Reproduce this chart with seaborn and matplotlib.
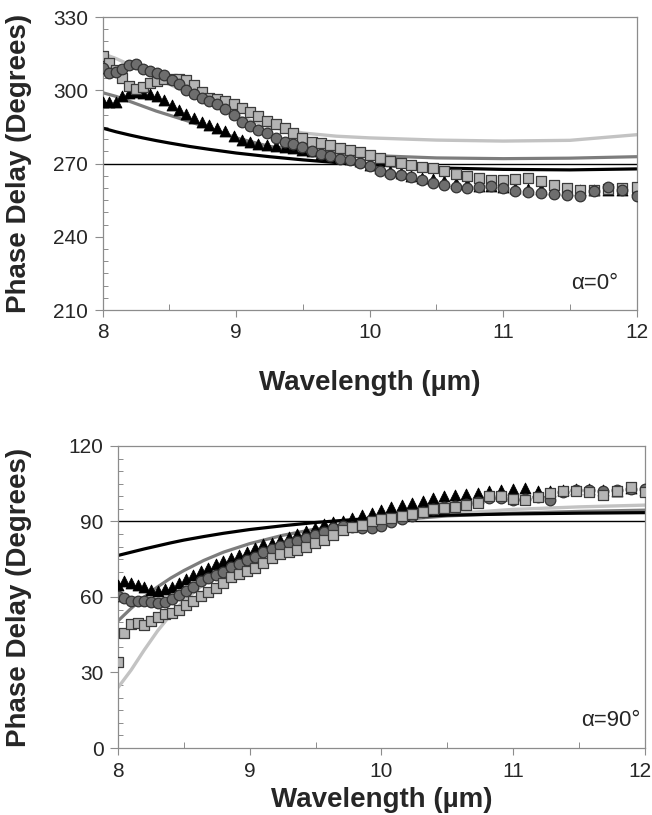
import matplotlib
matplotlib.use("Agg")
import matplotlib.pyplot as plt
from matplotlib.ticker import MultipleLocator, NullFormatter
import seaborn as sns
import pandas as pd

# wavelength of the measured points (um)
wavelength = [8.000, 8.049, 8.098, 8.148, 8.199, 8.250, 8.302, 8.354, 8.408, 8.462,
              8.516, 8.571, 8.627, 8.684, 8.742, 8.800, 8.859, 8.919, 8.980, 9.041,
              9.103, 9.167, 9.231, 9.296, 9.362, 9.429, 9.496, 9.565, 9.635, 9.706,
              9.778, 9.851, 9.925, 10.000, 10.076, 10.154, 10.233, 10.313, 10.394, 10.476,
              10.560, 10.645, 10.732, 10.820, 10.909, 11.000, 11.092, 11.186, 11.282, 11.379,
              11.478, 11.579, 11.681, 11.786, 11.892, 12.000]

# alpha = 0 deg, measured
top_tri = [295, 295, 295.4, 297.5, 299, 299.1, 299, 298.5, 297.5, 295.9,
           293.8, 291.9, 290.2, 288.5, 286.9, 285.8, 284.6, 283.4, 281.4, 279.7,
           278.7, 277.9, 277.5, 277, 276.6, 276.2, 275.6, 275, 274.1, 273.3,
           272.7, 271.9, 270.9, 269.5, 268.2, 267, 266, 265, 264.2, 263.5,
           262.8, 262.2, 261.6, 261, 260.6, 260.3, 260, 259.7, 259.5, 259.4,
           259.3, 259.2, 259.2, 259.3, 259.3, 259.5]
top_circ = [309.3, 307.2, 307.3, 308.7, 310.2, 310.7, 308.9, 307.9, 307.2, 306.2,
            304.4, 302.4, 300.3, 298.5, 296.8, 295.7, 294.3, 292.3, 289.8, 287.1,
            285.3, 283.9, 282.3, 280.6, 279, 278.1, 276.8, 275.3, 274.1, 273,
            272, 271.4, 270.2, 268.9, 267, 265.8, 265.2, 264.6, 263.2, 262,
            261.2, 260.5, 259.9, 260.4, 260.7, 259.8, 258.9, 258.4, 257.9, 257.7,
            257.3, 256.6, 258.8, 260.3, 259.2, 256.8]
top_sq = [313.9, 311.3, 308.3, 305, 301.8, 300.7, 301.5, 303, 303.9, 304.5,
          304.8, 304.8, 304.1, 302.3, 299.3, 297, 296.3, 295.5, 294.2, 292.7,
          291, 289.4, 287.5, 286.2, 284.5, 282.6, 280.5, 279, 278.6, 277.6,
          276.4, 275.5, 274.7, 273.6, 272.3, 271, 270.3, 269.4, 268.7, 268.2,
          267, 265.9, 265, 263.9, 263.2, 263.4, 263.8, 264, 262.8, 261.3,
          260, 259.1, 259.2, 259.6, 259.9, 260.5]

# alpha = 90 deg, measured
bot_tri = [64.8, 66.2, 65.4, 64.6, 63.8, 62.9, 62.5, 63.2, 64, 65.6,
           67.2, 68.8, 70.2, 71.4, 73.2, 74.3, 75.5, 76.7, 78, 79.4,
           80.9, 81.6, 82.5, 83.8, 85, 86.3, 87.5, 88.8, 89.6, 90.3,
           91.5, 92.5, 93.4, 94.4, 95.6, 96.5, 97.3, 98.2, 99.2, 100,
           100.5, 100.8, 101.4, 102.2, 102.6, 102.9, 103.3, 102.2, 102, 102.6,
           103, 102.8, 102.5, 102.3, 103.3, 102.5]
bot_circ = [60.2, 59.7, 58.4, 58.6, 58.4, 58, 57.6, 58.1, 59.2, 60.8,
            62.2, 63.8, 66.2, 67.6, 68.8, 70.1, 72, 73.1, 74.6, 76,
            77.8, 79, 80.4, 81.6, 82.2, 83.5, 84.8, 86, 87.6, 88.2,
            87.9, 87.3, 87.4, 88.2, 89.8, 91, 92.3, 93.6, 95, 95.8,
            96.3, 97, 97.8, 99.3, 99.5, 98.6, 99, 99.8, 98.5, 101.8,
            102.5, 102.6, 102, 102.4, 102.9, 103]
bot_sq = [34.3, 45.6, 49.4, 49.8, 48.8, 50.3, 52.2, 53.3, 53.8, 55,
          56.8, 58.6, 60.5, 62, 63.5, 65.5, 67.8, 69.2, 70.5, 71.5,
          73.5, 75.5, 77.2, 77.8, 78.6, 80, 81.5, 82.6, 84.5, 86.8,
          87.7, 88.5, 90, 91, 91.5, 92, 92.8, 93.8, 95, 95.5,
          95.7, 96.4, 97.5, 100, 100.1, 99, 98.5, 99.6, 101.3, 102,
          102.1, 101.8, 100.6, 102, 103.5, 101.8]

# model curves
line_wl = [8.0, 8.1, 8.2, 8.3, 8.4, 8.5, 8.65, 8.8, 9.0, 9.25, 9.5, 9.75, 10.0, 10.5, 11.0, 11.5, 12.0]
top_black = [284.5, 283, 281.7, 280.5, 279.4, 278.4, 277, 275.8, 274.3, 272.8, 271.5, 270.4, 269.5, 268.2, 267.6, 267.4, 267.8]
top_gray = [299, 297.5, 295.5, 293.5, 291.5, 289.8, 287.2, 284.5, 280.5, 277, 275.5, 274.3, 273.3, 272.3, 272, 272.2, 272.8]
top_light = [315, 313, 310.5, 308, 305, 302.5, 298.5, 294.5, 289.5, 285, 282.5, 281.2, 280.5, 279.6, 279.2, 279.5, 281.8]
bot_black = [76.5, 77.8, 79.1, 80.3, 81.5, 82.6, 84, 85.3, 86.8, 88.3, 89.6, 90.6, 91.5, 92.5, 93, 93.3, 93.5]
bot_gray = [50.5, 55.5, 60, 64, 67.5, 70.5, 74.5, 77.8, 81.2, 84.5, 87, 88.8, 90.2, 92.2, 93.3, 94, 94.5]
bot_light = [24, 31, 39, 46.5, 53, 58.5, 65, 70.5, 76, 81.5, 85.5, 88.5, 90.5, 93, 94.8, 95.8, 96.5]

x_ticks = [8, 9, 10, 11, 12]

sns.set_theme(style="white")
plt.rcParams['font.family'] = ['Liberation Sans', 'DejaVu Sans']
plt.rcParams['axes.edgecolor'] = '#8c8c8c'

fig = plt.figure(figsize=(6.52, 8.15), dpi=100)
ax_top = fig.add_axes([0.1575, 0.6196, 0.819, 0.3595])
ax_bot = fig.add_axes([0.181, 0.0822, 0.808, 0.3706])


def draw_panel(ax, tri, circ, sq, black, gray, light, ref, ylim, label, label_x, sq_on_top):
    lines = pd.DataFrame({'wl': line_wl, 'black': black, 'gray': gray, 'light': light})
    pts = pd.DataFrame({'wl': wavelength, 'tri': tri, 'circ': circ, 'sq': sq})

    ax.axhline(ref, color='black', lw=1.0, zorder=1)
    sns.lineplot(data=lines, x='wl', y='light', ax=ax, color='#c3c3c3', lw=2.4, zorder=2)
    sns.lineplot(data=lines, x='wl', y='gray', ax=ax, color='#7d7d7d', lw=2.3, zorder=2)
    sns.lineplot(data=lines, x='wl', y='black', ax=ax, color='black', lw=2.3, zorder=2)

    sns.scatterplot(data=pts, x='wl', y='tri', ax=ax, marker='^', s=62, color='black',
                    edgecolor='black', linewidth=0.6, zorder=3)
    z_sq, z_circ = (5, 4) if sq_on_top else (4, 5)
    sns.scatterplot(data=pts, x='wl', y='circ', ax=ax, marker='o', s=58, color='#6e6e6e',
                    edgecolor='#333333', linewidth=0.9, zorder=z_circ)
    sns.scatterplot(data=pts, x='wl', y='sq', ax=ax, marker='s', s=52, color='#b4b4b4',
                    edgecolor='#3c3c3c', linewidth=0.9, zorder=z_sq)

    ax.set_xlim(8, 12)
    ax.set_ylim(*ylim)
    ax.set_xticks(x_ticks)
    ax.xaxis.set_major_formatter(NullFormatter())
    ax.xaxis.set_minor_locator(MultipleLocator(0.5))
    ax.yaxis.set_major_locator(MultipleLocator(30))
    ax.yaxis.set_minor_locator(MultipleLocator(5))
    ax.tick_params(axis='y', which='major', direction='out', length=5.5, width=0.8,
                   color='#8c8c8c', pad=5, labelsize=15, left=True)
    ax.tick_params(axis='y', which='minor', direction='in', length=3.5, width=0.7,
                   color='#8c8c8c', left=True)
    ax.tick_params(axis='x', which='major', direction='out', length=5, width=0.8,
                   color='#8c8c8c', bottom=True)
    ax.tick_params(axis='x', which='minor', direction='in', length=4, width=0.7,
                   color='#8c8c8c', bottom=True)
    for sp in ax.spines.values():
        sp.set_color('#8c8c8c')
        sp.set_linewidth(0.9)

    # x tick labels as text so the last one can be kept inside the figure
    trans = ax.get_xaxis_transform()
    for t in x_ticks:
        ha = 'center'
        xpos = t
        if t == x_ticks[-1] and label_x > 0.98:
            ha = 'right'
            xpos = t + 0.05
        ax.text(xpos, -0.045, str(t), transform=trans, ha=ha, va='top', fontsize=15,
                color='#262626')

    ax.set_xlabel('Wavelength (µm)', fontsize=20, fontweight='bold')
    ax.set_ylabel('Phase Delay (Degrees)', fontsize=20, fontweight='bold')
    ax.text(label_x, 0.09, label, transform=ax.transAxes, ha='right', va='center', fontsize=16)


draw_panel(ax_top, top_tri, top_circ, top_sq, top_black, top_gray, top_light,
           270, (210, 330), 'α=0°', 0.966, sq_on_top=False)
draw_panel(ax_bot, bot_tri, bot_circ, bot_sq, bot_black, bot_gray, bot_light,
           90, (0, 120), 'α=90°', 0.992, sq_on_top=True)

ax_top.yaxis.set_label_coords((32 - 102.7) / 534, 0.5)
ax_top.xaxis.set_label_coords(0.5, (310 - 370) / 293)
ax_bot.yaxis.set_label_coords((32 - 118) / 527, 0.5)
ax_bot.xaxis.set_label_coords(0.5, (748 - 787) / 302)

fig.savefig('out.png', dpi=100)
